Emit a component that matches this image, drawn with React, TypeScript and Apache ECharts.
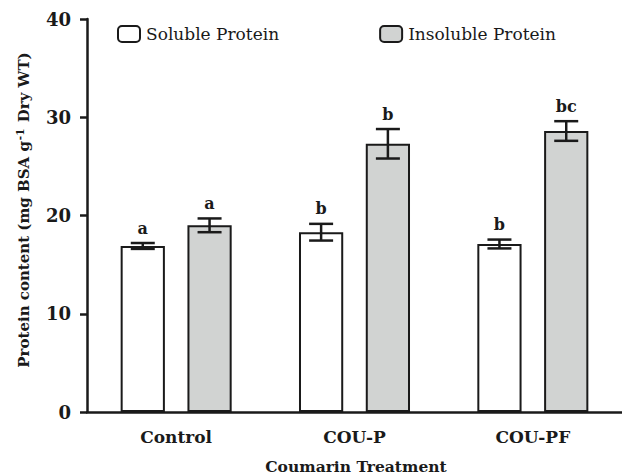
import React, { useEffect, useRef } from "react";
import * as echarts from "echarts";

const categories = ["Control", "COU-P", "COU-PF"];
const solubleValues = [16.9, 18.3, 17.1];
const solubleErrors = [0.3, 0.85, 0.45];
const solubleLetters = ["a", "b", "b"];
const insolubleValues = [19.0, 27.3, 28.6];
const insolubleErrors = [0.7, 1.5, 1.0];
const insolubleLetters = ["a", "b", "bc"];
const yMin = 0;
const yMax = 40;
const yInterval = 10;

const FONT = "DejaVu Serif";
const INK = "#1a1a1a";
const BAR_W = 0.248;
const BAR_GAP = 0.51;

function errorSeries(values: number[], errors: number[], letters: string[], side: number) {
  return {
    type: "custom",
    z: 5,
    silent: true,
    data: values.map((v, i) => [i, v, errors[i]]),
    renderItem: (params: any, api: any) => {
      const i = api.value(0);
      const v = api.value(1);
      const e = api.value(2);
      const band = api.size([1, 0])[0];
      const bw = band * BAR_W;
      const off = (bw + bw * BAR_GAP) / 2;
      const cx = api.coord([i, v])[0] + side * off;
      const yTop = api.coord([i, v + e])[1];
      const yBot = api.coord([i, v - e])[1];
      const half = 12;
      const st = { stroke: INK, lineWidth: 2.5 };
      return {
        type: "group",
        children: [
          { type: "line", shape: { x1: cx, y1: yTop, x2: cx, y2: yBot }, style: st },
          { type: "line", shape: { x1: cx - half, y1: yTop, x2: cx + half, y2: yTop }, style: st },
          { type: "line", shape: { x1: cx - half, y1: yBot, x2: cx + half, y2: yBot }, style: st },
          {
            type: "text",
            x: cx,
            y: yTop - 7,
            style: {
              text: letters[params.dataIndex],
              textAlign: "center",
              textVerticalAlign: "bottom",
              fontFamily: FONT,
              fontWeight: "bold",
              fontSize: 16,
              fill: INK,
            },
          },
        ],
      };
    },
  };
}

export default function App() {
  const ref = useRef<HTMLDivElement>(null);
  useEffect(() => {
    const chart = echarts.init(ref.current!, undefined, { renderer: "svg" });
    chart.setOption({
      animation: false,
      backgroundColor: "#ffffff",
      textStyle: { fontFamily: FONT },
      legend: {
        left: 112,
        top: 20,
        itemWidth: 22,
        itemHeight: 16,
        itemGap: 100,
        data: ["Soluble Protein", "Insoluble Protein"],
        itemStyle: { borderWidth: 2, borderColor: INK },
        textStyle: { fontFamily: FONT, fontSize: 17, color: INK, padding: [0, 0, 0, 1] },
      },
      grid: { left: 87, top: 19, width: 538, height: 393 },
      xAxis: {
        type: "category",
        data: categories,
        axisLine: { lineStyle: { color: INK, width: 2.5 } },
        axisTick: { alignWithLabel: true, length: 6, lineStyle: { color: INK, width: 2.5 } },
        axisLabel: { margin: 16, fontFamily: FONT, fontWeight: "bold", fontSize: 17, color: INK },
      },
      yAxis: {
        type: "value",
        min: yMin,
        max: yMax,
        interval: yInterval,
        splitLine: { show: false },
        axisLine: { show: true, lineStyle: { color: INK, width: 2.5 } },
        axisTick: { show: true, length: 7, lineStyle: { color: INK, width: 2.5 } },
        axisLabel: { margin: 16, fontFamily: FONT, fontWeight: "bold", fontSize: 18, color: INK },
      },
      graphic: [
        {
          type: "text",
          x: 24,
          y: 210,
          rotation: Math.PI / 2,
          style: {
            text: "{a|Protein content (mg BSA g}{s|-1}{a| Dry WT)}",
            textAlign: "center",
            textVerticalAlign: "middle",
            fill: INK,
            rich: {
              a: { fontFamily: FONT, fontWeight: "bold", fontSize: 15, lineHeight: 20, fill: INK },
              s: { fontFamily: FONT, fontWeight: "bold", fontSize: 10.5, lineHeight: 20, verticalAlign: "top", fill: INK, padding: [0, 1, 8, 1] },
            },
          },
        },
        {
          type: "text",
          x: 356,
          y: 466,
          style: {
            text: "Coumarin Treatment",
            textAlign: "center",
            textVerticalAlign: "middle",
            fontFamily: FONT,
            fontWeight: "bold",
            fontSize: 15.5,
            fill: INK,
          },
        },
      ],
      series: [
        {
          name: "Soluble Protein",
          type: "bar",
          data: solubleValues,
          barWidth: (BAR_W * 100) + "%",
          barGap: (BAR_GAP * 100) + "%",
          itemStyle: { color: "#ffffff", borderColor: INK, borderWidth: 2 },
        },
        {
          name: "Insoluble Protein",
          type: "bar",
          data: insolubleValues,
          barWidth: (BAR_W * 100) + "%",
          barGap: (BAR_GAP * 100) + "%",
          itemStyle: { color: "#d1d3d2", borderColor: INK, borderWidth: 2 },
        },
        errorSeries(solubleValues, solubleErrors, solubleLetters, -1),
        errorSeries(insolubleValues, insolubleErrors, insolubleLetters, 1),
      ],
    });
    return () => chart.dispose();
  }, []);
  return (
    <div
      ref={ref}
      style={{ position: "fixed", left: 0, top: 0, width: 622, height: 475, overflow: "hidden" }}
    />
  );
}
